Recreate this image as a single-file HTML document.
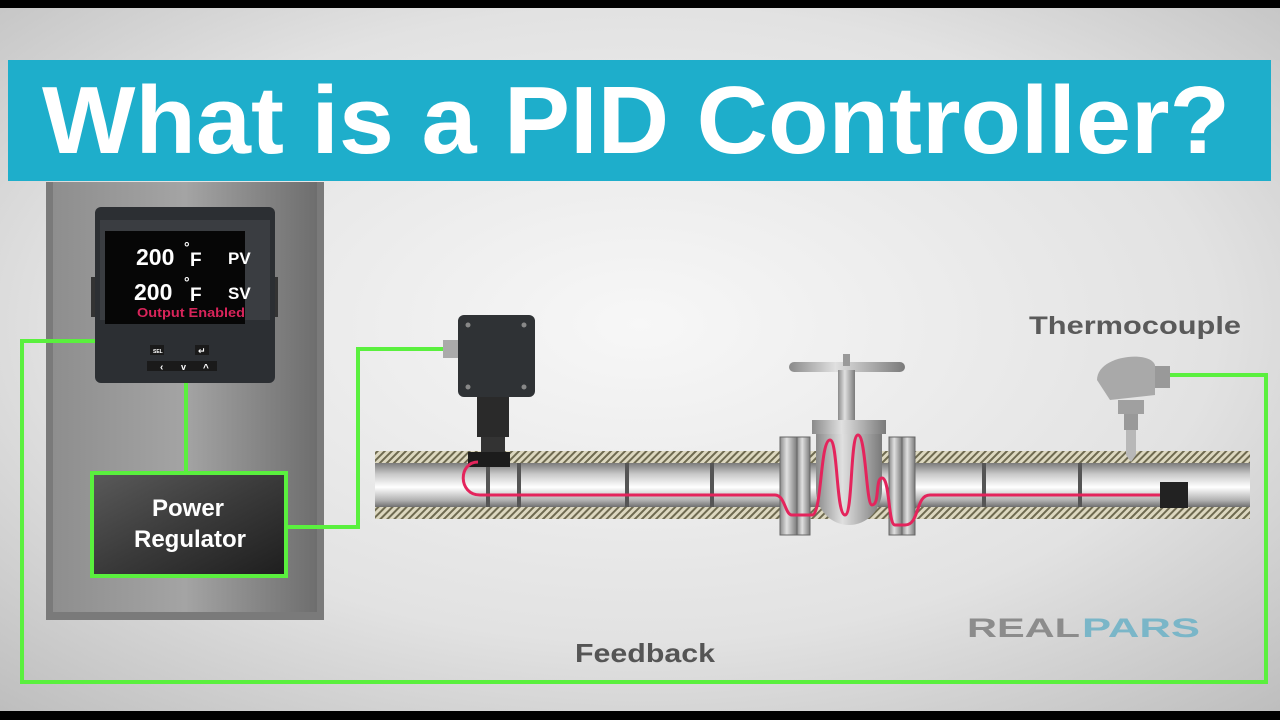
<!DOCTYPE html>
<html><head><meta charset="utf-8"><style>
html,body{margin:0;padding:0;width:1280px;height:720px;overflow:hidden;background:#000}
svg{display:block}
text{font-family:"Liberation Sans","DejaVu Sans",sans-serif;font-weight:bold}
</style></head><body>
<svg width="1280" height="720" viewBox="0 0 1280 720" xmlns="http://www.w3.org/2000/svg">
<defs>
<radialGradient id="bg" cx="0.5" cy="0.45" r="0.75">
<stop offset="0" stop-color="#f7f7f7"/><stop offset="0.6" stop-color="#e2e2e2"/><stop offset="1" stop-color="#bdbdbd"/>
</radialGradient>
<linearGradient id="panel" x1="0" x2="1">
<stop offset="0" stop-color="#8e8e8e"/><stop offset="0.5" stop-color="#a4a4a4"/><stop offset="1" stop-color="#6e6e6e"/>
</linearGradient>
<linearGradient id="pipe" x1="0" y1="0" x2="0" y2="1">
<stop offset="0" stop-color="#7b7b7b"/><stop offset="0.25" stop-color="#c8c8c8"/><stop offset="0.55" stop-color="#ffffff"/><stop offset="0.85" stop-color="#b0b0b0"/><stop offset="1" stop-color="#6f6f6f"/>
</linearGradient>
<linearGradient id="metal" x1="0" x2="1">
<stop offset="0" stop-color="#8a8a8a"/><stop offset="0.4" stop-color="#e0e0e0"/><stop offset="1" stop-color="#7a7a7a"/>
</linearGradient>
<linearGradient id="reg" x1="0" y1="0" x2="1" y2="1">
<stop offset="0" stop-color="#5a5a5a"/><stop offset="0.5" stop-color="#3a3a3a"/><stop offset="1" stop-color="#1e1e1e"/>
</linearGradient>
<pattern id="hatch" width="5" height="5" patternUnits="userSpaceOnUse" patternTransform="rotate(45)">
<rect width="5" height="5" fill="#ddd8c0"/><rect width="2" height="5" fill="#6e6a50"/>
</pattern>
</defs>
<rect x="0" y="8" width="1280" height="703" fill="url(#bg)"/>
<!-- title -->
<rect x="8" y="60" width="1263" height="121" fill="#1eaecb"/>
<text x="42" y="153" font-size="96" fill="#fff" textLength="1188" lengthAdjust="spacingAndGlyphs">What is a PID Controller?</text>
<!-- panel -->
<rect x="46" y="182" width="278" height="438" fill="#7a7a7a"/>
<rect x="53" y="182" width="264" height="430" fill="url(#panel)"/>
<!-- green wires -->
<g stroke="#5af03e" stroke-width="4" fill="none">
<polyline points="95,341 22,341 22,682 1266,682 1266,375 1170,375"/>
<line x1="186" y1="383" x2="186" y2="472"/>
<polyline points="288,527 358,527 358,349 443,349"/>
</g>
<!-- controller -->
<rect x="91" y="277" width="8" height="40" fill="#333"/>
<rect x="270" y="277" width="8" height="40" fill="#333"/>
<rect x="95" y="207" width="180" height="176" rx="6" fill="#2c2f33"/>
<rect x="100" y="220" width="170" height="100" fill="#3a3d41"/>
<rect x="105" y="231" width="140" height="93" fill="#060606"/>
<text x="136" y="265" font-size="23" fill="#fff">200</text>
<text x="184" y="252" font-size="14" fill="#fff">°</text>
<text x="190" y="266" font-size="19" fill="#fff">F</text>
<text x="228" y="264" font-size="17" fill="#fff">PV</text>
<text x="134" y="300" font-size="23" fill="#fff">200</text>
<text x="184" y="287" font-size="14" fill="#fff">°</text>
<text x="190" y="301" font-size="19" fill="#fff">F</text>
<text x="228" y="299" font-size="17" fill="#fff">SV</text>
<text x="137" y="317" font-size="13" fill="#d8245a" textLength="108" lengthAdjust="spacingAndGlyphs">Output Enabled</text>
<rect x="150" y="345" width="14" height="10" fill="#1a1a1a"/><text x="153" y="353" font-size="5" fill="#fff">SEL</text>
<rect x="195" y="345" width="14" height="10" fill="#1a1a1a"/><text x="198" y="354" font-size="9" fill="#fff">↵</text>
<rect x="147" y="361" width="70" height="10" fill="#1a1a1a"/>
<text x="160" y="370" font-size="10" fill="#fff">‹</text>
<text x="181" y="370" font-size="9" fill="#fff">v</text>
<text x="203" y="371" font-size="10" fill="#fff">^</text>
<!-- power regulator -->
<rect x="92" y="473" width="194" height="103" fill="url(#reg)" stroke="#5af03e" stroke-width="4"/>
<text x="188" y="516" font-size="24" fill="#fff" text-anchor="middle">Power</text>
<text x="190" y="547" font-size="24" fill="#fff" text-anchor="middle">Regulator</text>
<!-- pipe -->
<rect x="375" y="451" width="875" height="12" fill="url(#hatch)"/>
<rect x="375" y="507" width="875" height="12" fill="url(#hatch)"/>
<rect x="375" y="463" width="875" height="44" fill="url(#pipe)"/>
<g fill="#555">
<rect x="486" y="463" width="4" height="44"/><rect x="517" y="463" width="4" height="44"/>
<rect x="625" y="463" width="4" height="44"/><rect x="710" y="463" width="4" height="44"/>
<rect x="982" y="463" width="4" height="44"/><rect x="1078" y="463" width="4" height="44"/>
</g>
<rect x="1160" y="482" width="28" height="26" fill="#222"/>
<!-- junction box -->
<rect x="443" y="340" width="17" height="18" fill="#aaa"/>
<rect x="458" y="315" width="77" height="82" rx="6" fill="#2f3235"/>
<g fill="#888"><circle cx="468" cy="325" r="2.5"/><circle cx="524" cy="325" r="2.5"/><circle cx="468" cy="387" r="2.5"/><circle cx="524" cy="387" r="2.5"/></g>
<rect x="477" y="397" width="32" height="40" fill="#2a2a2a"/>
<rect x="481" y="437" width="24" height="18" fill="#333"/>
<rect x="468" y="452" width="42" height="15" fill="#1c1c1c"/>
<!-- valve -->
<rect x="789" y="362" width="116" height="10" rx="5" fill="url(#metal)"/>
<rect x="843" y="354" width="7" height="12" fill="#999"/>
<rect x="838" y="370" width="17" height="52" fill="url(#metal)"/>
<rect x="812" y="420" width="74" height="14" fill="url(#metal)"/>
<path d="M816,434 L882,434 L882,490 A33,35 0 0 1 816,490 Z" fill="url(#metal)"/>
<rect x="780" y="437" width="17" height="98" fill="url(#metal)" stroke="#666"/>
<rect x="797" y="437" width="13" height="98" fill="url(#metal)" stroke="#666"/>
<rect x="889" y="437" width="13" height="98" fill="url(#metal)" stroke="#666"/>
<rect x="902" y="437" width="13" height="98" fill="url(#metal)" stroke="#666"/>
<!-- heat trace -->
<path d="M478,462 C458,462 458,495 480,495 L775,495 C785,495 785,515 792,515 L812,515 C822,515 820,440 830,440 C838,440 836,515 845,515 C853,515 850,435 858,435 C866,435 866,505 872,505 C880,505 875,478 882,478 C890,478 888,525 895,525 L905,525 C920,525 915,495 930,495 L1160,495" fill="none" stroke="#e4245c" stroke-width="3"/>
<!-- thermocouple -->
<rect x="1145" y="366" width="25" height="22" fill="#999"/>
<path d="M1097,380 C1097,355 1150,350 1155,365 L1155,395 L1110,400 Z" fill="#a9a9a9"/>
<rect x="1118" y="400" width="26" height="14" fill="#a0a0a0"/>
<rect x="1124" y="414" width="14" height="16" fill="#999"/>
<path d="M1126,430 L1136,430 L1136,455 L1131,462 L1126,455 Z" fill="#b8b8b8"/>
<!-- labels -->
<text x="1029" y="334" font-size="25" fill="#5a5a5a" textLength="212" lengthAdjust="spacingAndGlyphs">Thermocouple</text>
<text x="575" y="662" font-size="26" fill="#555" textLength="140" lengthAdjust="spacingAndGlyphs">Feedback</text>
<text x="967" y="637" font-size="27" fill="#8c8c8c" textLength="113" lengthAdjust="spacingAndGlyphs" font-family="DejaVu Sans">REAL</text>
<text x="1082" y="637" font-size="27" fill="#7ab6c8" textLength="118" lengthAdjust="spacingAndGlyphs" font-family="DejaVu Sans">PARS</text>
</svg>
</body></html>
